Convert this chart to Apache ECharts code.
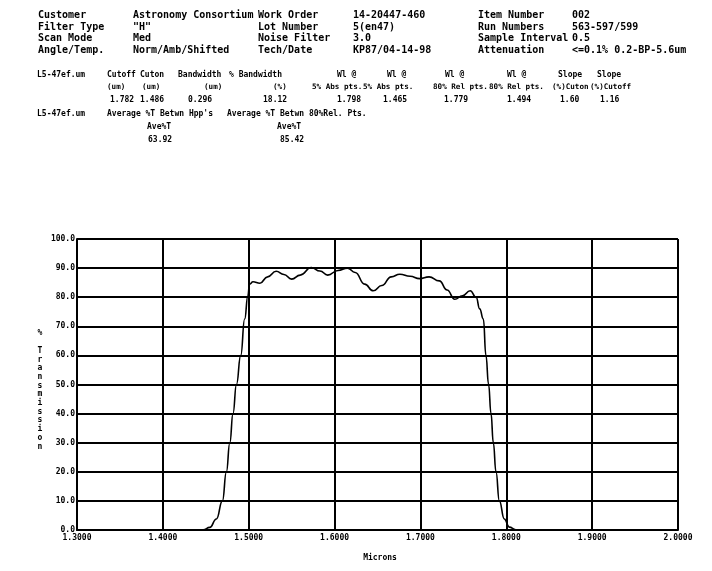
<!DOCTYPE html>
<html>
<head>
<meta charset="utf-8">
<script src="https://cdn.jsdelivr.net/npm/echarts@6/dist/echarts.min.js"></script>
<style>
html,body{margin:0;padding:0;background:#fff;}
#chart{width:712px;height:571px;}
</style>
</head>
<body>
<div id="chart"></div>
<script>
// ---- data ----
var wavelength = [1.300,1.440,1.447,1.4547,1.4624,1.4694,1.474,1.478,1.4817,1.4857,1.4907,1.4953,1.499,1.501,1.505,1.513,1.522,1.532,1.541,1.550,1.560,1.573,1.583,1.592,1.604,1.615,1.624,1.635,1.645,1.655,1.666,1.676,1.688,1.699,1.710,1.722,1.731,1.740,1.749,1.758,1.765,1.769,1.7733,1.7763,1.7794,1.7822,1.7849,1.788,1.7919,1.7977,1.8035,1.811,1.820,2.000];
var transmission = [0,0,0.1,0.9,3.8,10,20,30,40,50,60,72.5,80.5,84.5,85.3,84.8,87.0,88.9,87.8,86.2,87.6,90.2,89.0,87.6,89.2,90.0,88.5,84.5,82.2,84.0,87.0,87.9,87.2,86.4,87.0,85.6,82.5,79.3,80.5,82.2,79.9,76.0,72.5,60,50,40,30,20,10,3.8,1,0.1,0,0];

var headerLabels1 = ["Customer","Filter Type","Scan Mode","Angle/Temp."];
var headerValues1 = ["Astronomy Consortium","\"H\"","Med","Norm/Amb/Shifted"];
var headerLabels2 = ["Work Order","Lot Number","Noise Filter","Tech/Date"];
var headerValues2 = ["14-20447-460","5(en47)","3.0","KP87/04-14-98"];
var headerLabels3 = ["Item Number","Run Numbers","Sample Interval","Attenuation"];
var headerValues3 = ["002","563-597/599","0.5","<=0.1% 0.2-BP-5.6um"];

var tableHead1 = ["Cutoff","Cuton","Bandwidth","% Bandwidth","Wl @","Wl @","Wl @","Wl @","Slope","Slope"];
var tableHead2 = ["(um)","(um)","(um)","(%)","5% Abs pts.","5% Abs pts.","80% Rel pts.","80% Rel pts.","(%)Cuton","(%)Cutoff"];
var tableValues = ["1.782","1.486","0.296","18.12","1.798","1.465","1.779","1.494","1.60","1.16"];
var fileName = "L5-47ef.um";
var avgHeads = ["Average %T Betwn Hpp's","Average %T Betwn 80%Rel. Pts."];
var avgSub = ["Ave%T","Ave%T"];
var avgValues = ["63.92","85.42"];

// ---- layout helpers (positions only) ----
var F = 'bold 10px "DejaVu Sans Mono", monospace';
var FS = 'bold 8px "DejaVu Sans Mono", monospace';
var FT = 'bold 7.6px "DejaVu Sans Mono", monospace';
var g = [];
function txt(x, y, s, font, align) {
  g.push({type:'text', x:x, y:y, style:{text:s, font:font, fill:'#000', textAlign:align||'left', textVerticalAlign:'middle'}});
}
var rowsY = [15.5, 27, 38.5, 50];
for (var i = 0; i < 4; i++) {
  txt(38, rowsY[i], headerLabels1[i], F);
  txt(133, rowsY[i], headerValues1[i], F);
  txt(258, rowsY[i], headerLabels2[i], F);
  txt(353, rowsY[i], headerValues2[i], F);
  txt(478, rowsY[i], headerLabels3[i], F);
  txt(572, rowsY[i], headerValues3[i], F);
}
var h1X = [107,140,178,229,337,387,445,507,558,597];
var h2X = [107,142,204,273,312,363,433,489,552,590];
var vX  = [110,140,188,263,337,383,444,507,560,600];
txt(37, 75, fileName, FS);
for (var j = 0; j < tableHead1.length; j++) {
  txt(h1X[j], 75, tableHead1[j], FS);
  txt(h2X[j], 87, tableHead2[j], FT);
  txt(vX[j], 99.5, tableValues[j], FS);
}
txt(37, 114, fileName, FS);
txt(107, 114, avgHeads[0], FS);
txt(227, 114, avgHeads[1], FS);
txt(147, 126.5, avgSub[0], FS);
txt(277, 126.5, avgSub[1], FS);
txt(148, 140, avgValues[0], FS);
txt(280, 140, avgValues[1], FS);

// vertical y-axis name (stacked characters)
var yName = "% Transmission";
g.push({type:'text', x:40, y:329, style:{text:yName.split('').join('\n'), font:FS, fill:'#000', textAlign:'center', lineHeight:8.7}});
txt(380, 558, "Microns", FS, 'center');

var pts = wavelength.map(function(w, k){ return [w, transmission[k]]; });

var chart = echarts.init(document.getElementById('chart'), null, {renderer:'canvas'});
chart.setOption({
  animation:false,
  backgroundColor:'#fff',
  grid:{left:77, top:239, right:34, bottom:41, containLabel:false},
  xAxis:{
    type:'value', min:1.3, max:2.0, interval:0.1,
    axisLine:{show:true, lineStyle:{color:'#000', width:2}},
    axisTick:{show:false},
    axisLabel:{color:'#000', fontFamily:'DejaVu Sans Mono', fontWeight:'bold', fontSize:8, margin:4,
      formatter:function(v){ return v.toFixed(4); }},
    splitLine:{show:true, lineStyle:{color:'#000', width:2}}
  },
  yAxis:{
    type:'value', min:0, max:100, interval:10,
    axisLine:{show:true, lineStyle:{color:'#000', width:2}},
    axisTick:{show:false},
    axisLabel:{color:'#000', fontFamily:'DejaVu Sans Mono', fontWeight:'bold', fontSize:8, margin:2,
      formatter:function(v){ return v.toFixed(1); }},
    splitLine:{show:true, lineStyle:{color:'#000', width:2}}
  },
  series:[{
    type:'line', data:pts, showSymbol:false, smooth:0.5, smoothMonotone:'x',
    lineStyle:{color:'#000', width:1.6}
  }],
  graphic:g
});
</script>
</body>
</html>
